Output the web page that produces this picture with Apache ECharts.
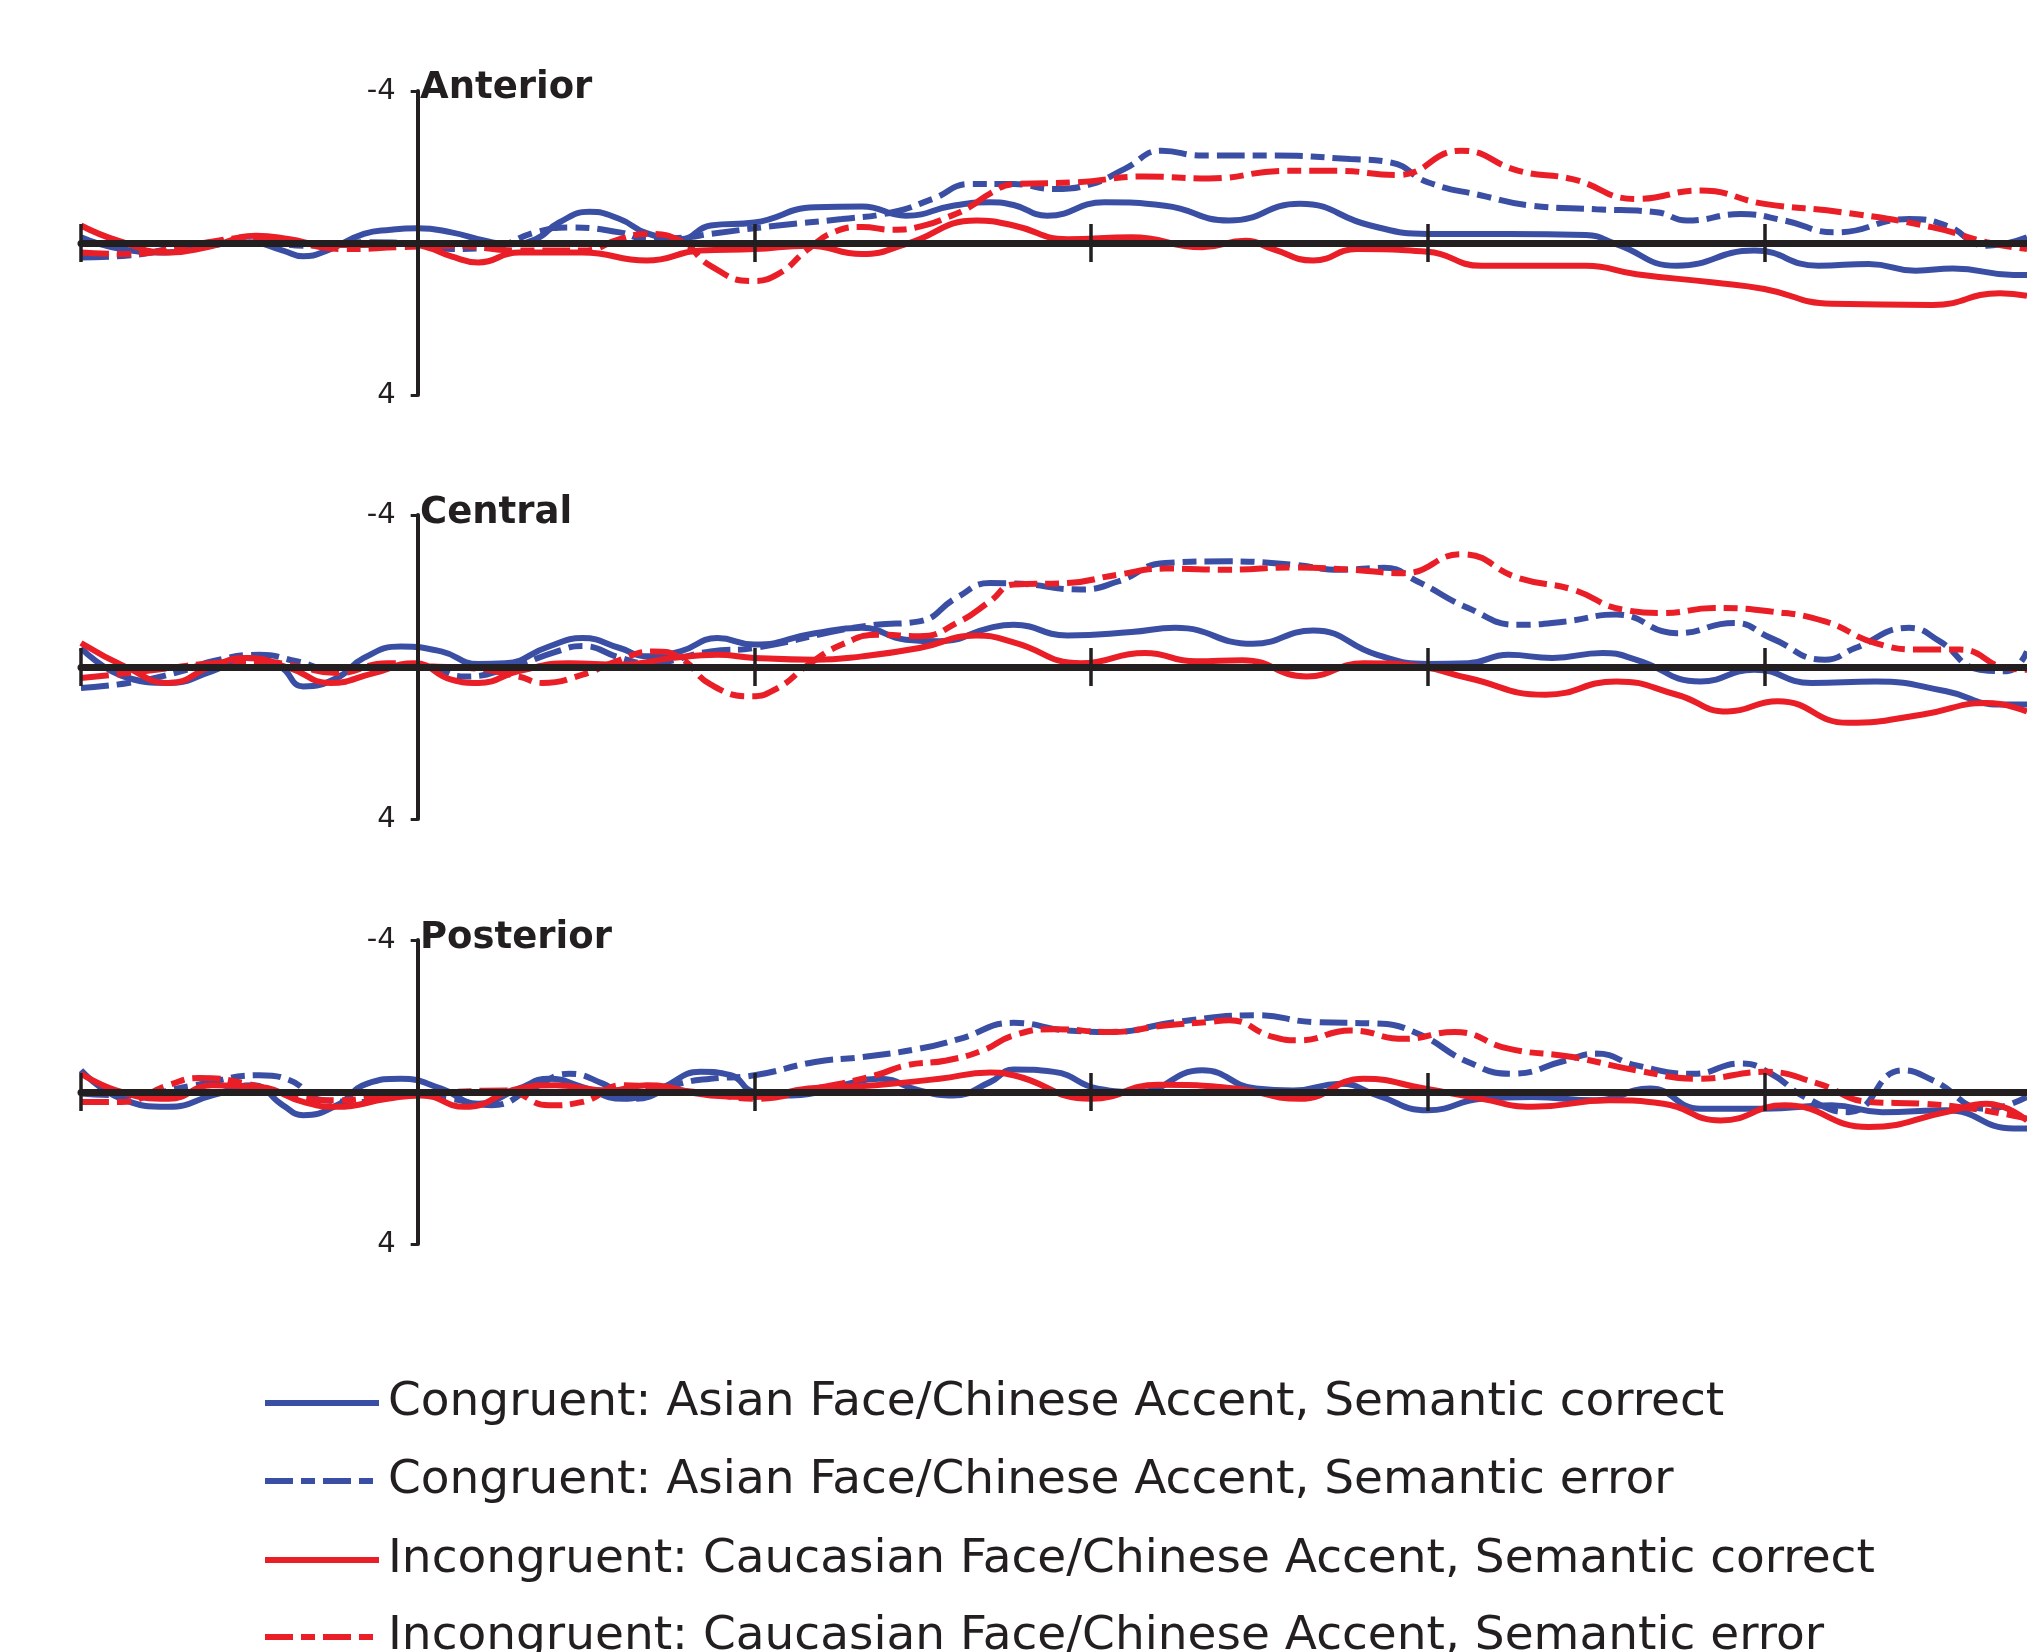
<!DOCTYPE html>
<html><head><meta charset="utf-8">
<script src="https://cdn.jsdelivr.net/npm/echarts@6/dist/echarts.min.js"></script>
<style>html,body{margin:0;padding:0;background:#fff}#c{width:2027px;height:1652px}</style>
</head><body><div id="c"></div>
<script>
// ---------- data (time in ms, amplitude in µV; negative plotted upward) ----------
const panelNames = ['Anterior', 'Central', 'Posterior'];
const seriesNames = [
  'Congruent: Asian Face/Chinese Accent, Semantic correct',
  'Congruent: Asian Face/Chinese Accent, Semantic error',
  'Incongruent: Caucasian Face/Chinese Accent, Semantic correct',
  'Incongruent: Caucasian Face/Chinese Accent, Semantic error'
];
const yTickValues = [-4, 4];
const xTickValues = [-100, 0, 100, 200, 300, 400];
const xMin = -100, xMax = 478;

const antCC = [[-100,-0.15],[-88,0.16],[-75,0.25],[-62,0.07],[-50,-0.02],[-40,0.2],[-34,0.35],[-27,0.2],[-16,-0.24],[-8,-0.35],[0,-0.39],[10,-0.28],[20,-0.06],[27,0.03],[35,-0.1],[42,-0.54],[51,-0.82],[60,-0.63],[68,-0.26],[78,-0.1],[87,-0.46],[100,-0.54],[118,-0.94],[132,-0.96],[145,-0.72],[159,-0.98],[170,-1.07],[177,-1.0],[187,-0.72],[204,-1.07],[222,-0.98],[241,-0.59],[262,-1.03],[283,-0.46],[300,-0.24],[324,-0.24],[347,-0.21],[356,0.03],[374,0.6],[397,0.2],[416,0.6],[431,0.55],[445,0.73],[456,0.67],[474,0.84],[478,0.84]];
const antCE = [[-100,0.38],[-86,0.33],[-66,0.03],[-47,-0.06],[-34,0.07],[-16,-0.02],[1,0.03],[10,0.16],[22,0.11],[35,-0.28],[45,-0.41],[60,-0.28],[68,-0.1],[80,-0.15],[87,-0.24],[107,-0.46],[126,-0.63],[141,-0.81],[153,-1.16],[164,-1.55],[177,-1.55],[189,-1.42],[200,-1.55],[210,-1.95],[221,-2.43],[233,-2.3],[254,-2.3],[277,-2.21],[289,-2.12],[300,-1.6],[316,-1.25],[331,-0.98],[350,-0.89],[368,-0.81],[377,-0.59],[393,-0.76],[406,-0.59],[421,-0.28],[443,-0.63],[454,-0.46],[466,0.07],[478,-0.15]];
const antIC = [[-100,-0.46],[-89,-0.06],[-74,0.25],[-62,0.1],[-48,-0.19],[-38,-0.1],[-28,0.05],[-16,0.05],[-5,0.0],[3,0.12],[10,0.35],[18,0.51],[30,0.25],[49,0.25],[68,0.46],[84,0.2],[100,0.16],[116,0.07],[132,0.29],[145,0.03],[166,-0.59],[177,-0.46],[193,-0.1],[212,-0.15],[233,0.11],[246,-0.06],[254,0.16],[266,0.46],[279,0.16],[300,0.23],[316,0.6],[347,0.6],[362,0.82],[385,1.04],[400,1.21],[420,1.6],[450,1.63],[470,1.32],[478,1.39]];
const antIE = [[-100,0.25],[-86,0.29],[-66,0.03],[-47,-0.15],[-34,0.03],[-22,0.16],[-5,0.11],[10,0.07],[30,0.2],[49,0.2],[60,-0.1],[68,-0.24],[78,-0.06],[87,0.6],[99,1.0],[107,0.82],[116,0.16],[124,-0.3],[132,-0.42],[141,-0.35],[150,-0.45],[158,-0.7],[164,-0.95],[170,-1.3],[177,-1.55],[196,-1.6],[216,-1.75],[235,-1.7],[258,-1.9],[273,-1.9],[291,-1.79],[310,-2.43],[327,-1.9],[343,-1.68],[362,-1.16],[381,-1.38],[400,-1.03],[423,-0.81],[450,-0.41],[466,-0.02],[478,0.16]];

const cenCC = [[-100,-0.5],[-86,0.29],[-74,0.42],[-61,0.11],[-51,-0.24],[-41,-0.02],[-34,0.51],[-24,0.29],[-16,-0.24],[-5,-0.54],[7,-0.41],[18,-0.08],[26,-0.1],[39,-0.54],[49,-0.76],[60,-0.5],[68,-0.28],[78,-0.41],[89,-0.76],[100,-0.59],[118,-0.89],[132,-1.03],[145,-0.72],[155,-0.68],[170,-1.03],[177,-1.11],[193,-0.83],[212,-0.92],[225,-1.03],[248,-0.61],[266,-0.96],[285,-0.32],[300,-0.08],[312,-0.1],[324,-0.32],[337,-0.24],[352,-0.37],[362,-0.19],[381,0.38],[397,0.07],[414,0.42],[433,0.38],[454,0.64],[470,0.99],[478,0.99]];
const cenCE = [[-100,0.55],[-86,0.42],[-70,0.11],[-61,-0.15],[-47,-0.32],[-36,-0.15],[-24,0.1],[-9,-0.05],[3,0.0],[14,0.25],[28,0.0],[41,-0.4],[49,-0.55],[60,-0.25],[68,-0.1],[87,-0.41],[100,-0.5],[126,-0.98],[136,-1.11],[149,-1.2],[160,-1.82],[170,-2.21],[177,-2.2],[197,-2.04],[208,-2.25],[222,-2.74],[241,-2.78],[260,-2.69],[274,-2.56],[287,-2.61],[297,-2.25],[312,-1.55],[327,-1.11],[341,-1.2],[356,-1.38],[374,-0.89],[391,-1.16],[402,-0.76],[418,-0.19],[427,-0.5],[443,-1.03],[452,-0.68],[464,0.07],[472,0.11],[478,-0.41]];
const cenIC = [[-100,-0.63],[-86,0.03],[-74,0.42],[-61,-0.02],[-51,-0.24],[-38,0.03],[-26,0.42],[-13,0.16],[-1,-0.1],[10,0.33],[18,0.42],[30,0.11],[45,-0.1],[60,-0.06],[76,-0.24],[89,-0.32],[100,-0.24],[118,-0.19],[132,-0.28],[149,-0.5],[166,-0.83],[177,-0.65],[197,-0.1],[216,-0.37],[231,-0.15],[245,-0.18],[264,0.25],[281,-0.1],[297,-0.02],[312,0.29],[335,0.73],[356,0.38],[374,0.73],[389,1.17],[404,0.9],[425,1.47],[447,1.25],[466,0.95],[478,1.17]];
const cenIE = [[-100,0.29],[-86,0.16],[-74,0.03],[-61,-0.1],[-47,-0.15],[-36,-0.02],[-24,0.16],[-9,-0.1],[3,-0.02],[16,0.03],[30,0.25],[37,0.42],[49,0.2],[59,-0.15],[70,-0.41],[78,-0.24],[87,0.46],[99,0.77],[107,0.55],[116,-0.06],[126,-0.59],[137,-0.85],[149,-0.81],[161,-1.2],[170,-1.73],[177,-2.17],[193,-2.21],[208,-2.43],[222,-2.59],[241,-2.56],[260,-2.62],[277,-2.56],[293,-2.47],[310,-2.97],[327,-2.34],[343,-2.04],[358,-1.51],[370,-1.42],[385,-1.55],[402,-1.46],[418,-1.2],[433,-0.63],[447,-0.46],[458,-0.46],[472,0.03],[478,0.07]];

const posCC = [[-100,-0.57],[-88,0.18],[-74,0.39],[-61,0.09],[-49,-0.18],[-40,0.35],[-34,0.61],[-24,0.35],[-15,-0.22],[-5,-0.35],[7,-0.09],[18,0.31],[30,-0.09],[39,-0.35],[49,-0.13],[61,0.18],[72,-0.09],[84,-0.53],[93,-0.44],[100,0.0],[111,0.09],[126,-0.18],[137,-0.35],[149,-0.04],[159,0.09],[170,-0.26],[177,-0.59],[189,-0.53],[202,-0.09],[214,0.0],[233,-0.57],[249,-0.09],[260,-0.04],[274,-0.22],[285,0.09],[300,0.48],[316,0.18],[331,0.13],[350,0.22],[366,-0.09],[381,0.44],[400,0.44],[420,0.35],[435,0.53],[454,0.48],[474,0.96],[478,0.96]];
const posCE = [[-100,0.04],[-86,0.09],[-66,-0.18],[-47,-0.44],[-38,-0.31],[-28,0.22],[-16,0.26],[-5,0.04],[10,0.18],[22,0.35],[34,-0.09],[45,-0.48],[55,-0.22],[64,0.18],[78,-0.22],[87,-0.35],[100,-0.44],[118,-0.79],[132,-0.92],[149,-1.14],[161,-1.4],[177,-1.82],[193,-1.62],[206,-1.58],[225,-1.84],[249,-2.02],[266,-1.84],[285,-1.8],[297,-1.54],[312,-0.79],[325,-0.48],[341,-0.83],[350,-1.01],[362,-0.7],[379,-0.48],[393,-0.75],[402,-0.48],[412,0.13],[425,0.53],[441,-0.57],[450,-0.31],[466,0.44],[478,0.13]];
const posIC = [[-100,-0.48],[-88,0.0],[-74,0.18],[-61,-0.18],[-47,-0.13],[-34,0.26],[-24,0.39],[-9,0.18],[1,0.09],[14,0.39],[30,-0.09],[41,-0.18],[57,-0.04],[68,-0.18],[87,0.09],[100,0.13],[116,-0.09],[136,-0.18],[155,-0.35],[170,-0.51],[177,-0.44],[200,0.18],[220,-0.19],[243,-0.09],[262,0.18],[281,-0.35],[299,-0.09],[316,0.18],[331,0.39],[354,0.22],[370,0.31],[387,0.75],[406,0.35],[431,0.92],[454,0.53],[466,0.31],[478,0.75]];
const posIE = [[-100,0.26],[-88,0.26],[-74,-0.18],[-65,-0.37],[-51,-0.22],[-38,0.09],[-24,0.22],[-9,0.09],[11,0.0],[26,-0.04],[39,0.35],[49,0.26],[61,-0.18],[72,-0.09],[87,0.04],[100,0.18],[118,-0.09],[136,-0.44],[145,-0.7],[157,-0.83],[168,-1.1],[177,-1.49],[189,-1.65],[206,-1.58],[222,-1.75],[235,-1.84],[241,-1.89],[254,-1.45],[262,-1.36],[277,-1.62],[293,-1.4],[308,-1.58],[324,-1.14],[343,-0.92],[362,-0.57],[381,-0.35],[400,-0.53],[416,-0.22],[431,0.26],[447,0.31],[462,0.44],[478,0.7]];

const panelData = [
  [antCC, antCE, antIC, antIE],
  [cenCC, cenCE, cenIC, cenIE],
  [posCC, posCE, posIC, posIE]
];

// ---------- styling / layout ----------
const INK = '#231F20';
const BLUE = '#3A4FA3';
const RED = '#E91E27';
const seriesColors = [BLUE, BLUE, RED, RED];
const DASH = [28, 8, 14, 8];
const seriesDash = ['solid', DASH, 'solid', DASH];
const gridLeft = 81, chartW = 2027;
const panelTop = [91, 515, 940];
const panelH = 304;
const titleTop = [70, 495, 920];
const legendTop = [1379, 1457, 1536, 1613];
// the vertical axis sits at time 0: shift it from the grid's left edge
const yAxisShift = -(0 - xMin) / (xMax - xMin) * (chartW - gridLeft);

const grid = [], xAxis = [], yAxis = [], series = [], title = [];
panelNames.forEach((p, i) => {
  grid.push({left: gridLeft, right: 0, top: panelTop[i], height: panelH, outerBoundsMode: 'none', containLabel: false});
  const common = {gridIndex: i, type: 'value', min: xMin, max: xMax, z: 5,
    axisLabel: {show: false}, splitLine: {show: false}};
  xAxis.push(Object.assign({}, common, {position: 'bottom',
    axisLine: {show: true, onZero: true, onZeroAxisIndex: i, lineStyle: {color: INK, width: 7}},
    axisTick: {show: true, length: 19, customValues: xTickValues, lineStyle: {color: INK, width: 3.5}}}));
  xAxis.push(Object.assign({}, common, {position: 'top',
    axisLine: {show: false, onZero: true, onZeroAxisIndex: i, lineStyle: {color: INK, width: 7}},
    axisTick: {show: true, length: 19, customValues: xTickValues, lineStyle: {color: INK, width: 3.5}}}));
  yAxis.push({gridIndex: i, type: 'value', min: -4, max: 4, inverse: true, position: 'left', z: 5,
    offset: yAxisShift,
    axisLine: {show: true, onZero: false, lineStyle: {color: INK, width: 4}},
    axisTick: {show: true, length: 7, customValues: yTickValues, lineStyle: {color: INK, width: 3}},
    axisLabel: {show: true, customValues: yTickValues, margin: 22, fontSize: 29,
      fontFamily: 'DejaVu Sans', color: INK},
    splitLine: {show: false}});
  title.push({text: p, left: 420, top: titleTop[i], padding: 0,
    textStyle: {fontFamily: 'DejaVu Sans', fontWeight: 'bold', fontSize: 37, color: INK}});
  panelData[i].forEach((d, k) => {
    series.push({type: 'line', name: seriesNames[k], data: d,
      xAxisIndex: 2 * i, yAxisIndex: i, smooth: 0.5, symbol: 'none', showSymbol: false,
      color: seriesColors[k],
      lineStyle: {color: seriesColors[k], width: 6, type: seriesDash[k]},
      z: 2});
  });
});

const legend = seriesNames.map((n, k) => ({
  data: [n], left: 262, top: legendTop[k], padding: 0, selectedMode: false,
  itemWidth: 114, itemHeight: 6, itemGap: 0,
  lineStyle: {width: 6}, itemStyle: {opacity: 0},
  textStyle: {fontFamily: 'DejaVu Sans', fontSize: 47, color: INK, lineHeight: 48, padding: [0, 0, 0, 4]}
}));

const chart = echarts.init(document.getElementById('c'));
chart.setOption({
  animation: false,
  backgroundColor: '#ffffff',
  title, legend, grid, xAxis, yAxis, series
});
</script>
</body></html>
